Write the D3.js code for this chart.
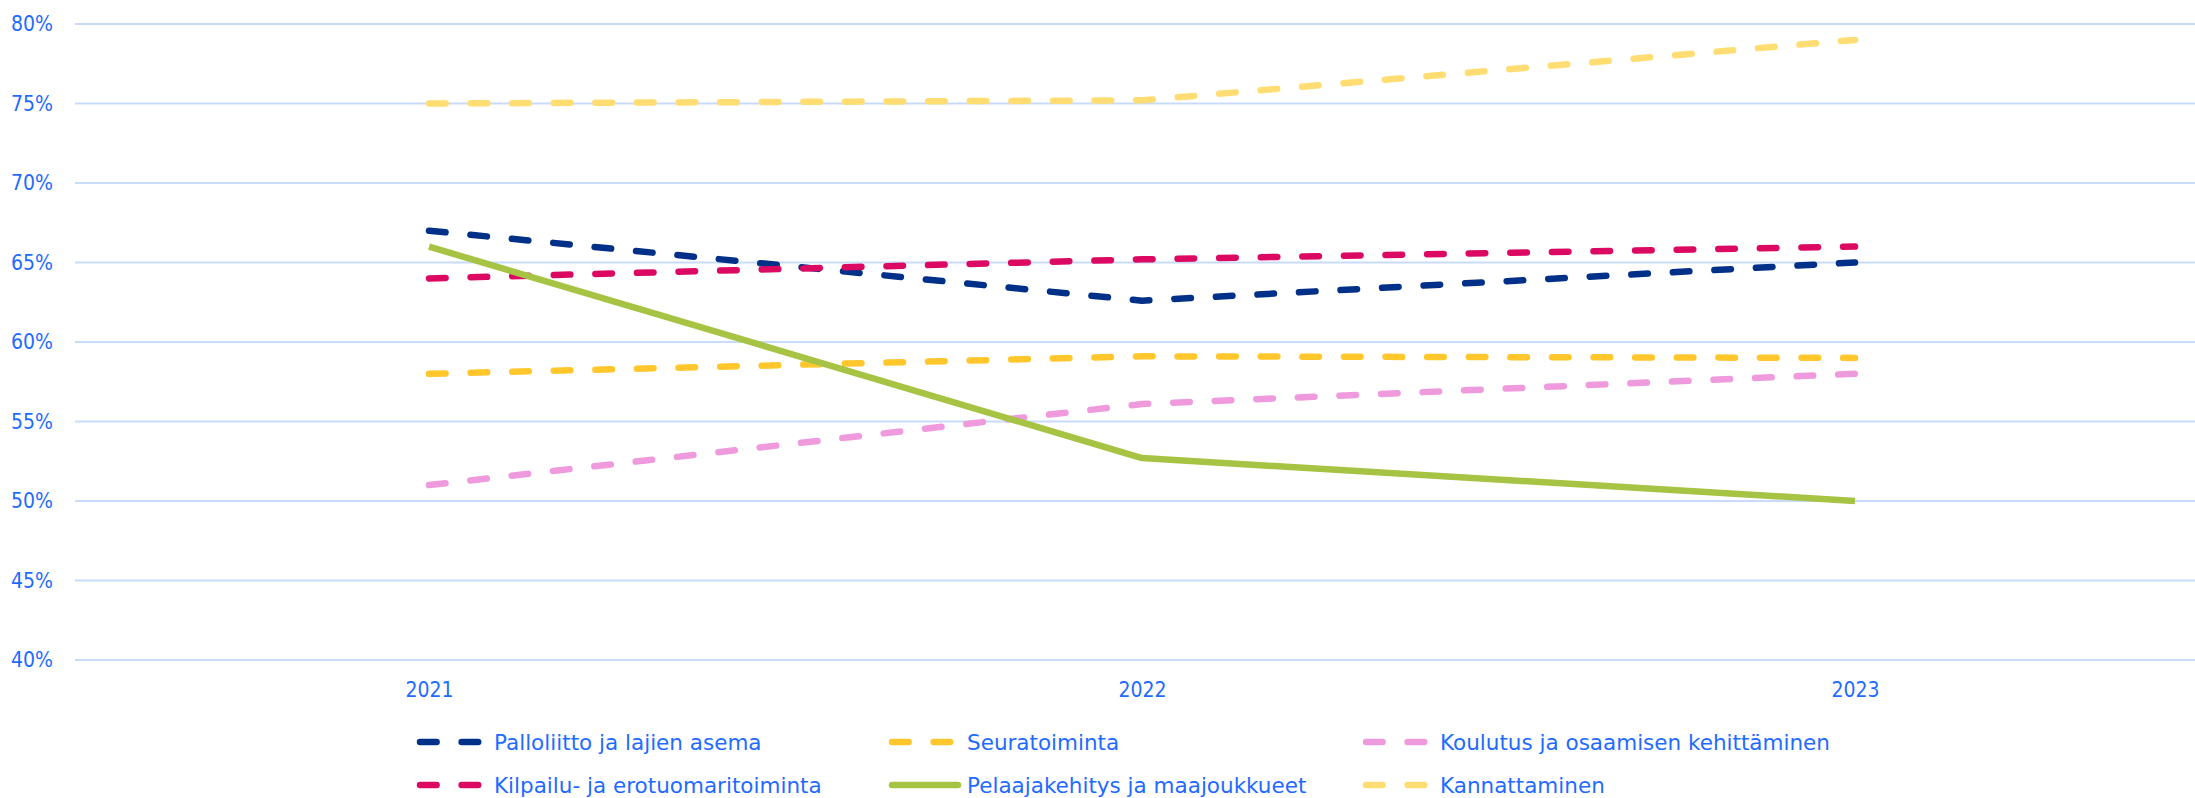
<!DOCTYPE html>
<html>
<head>
<meta charset="utf-8">
<script src="https://cdn.jsdelivr.net/npm/d3@7"></script>
<style>
  html, body { margin: 0; padding: 0; background: #fff; }
  svg { display: block; }
  .legend text { font-family: "DejaVu Sans", sans-serif; fill: #1f6bff; }
  .axis text { font-family: "DejaVu Sans Condensed", "DejaVu Sans", sans-serif; fill: #1f6bff; }
</style>
</head>
<body>
<svg id="chart" width="2195" height="798"></svg>
<script>
const years = ["2021", "2022", "2023"];
const yTicks = [40, 45, 50, 55, 60, 65, 70, 75, 80];

const seriesNames = [
  "Palloliitto ja lajien asema",
  "Seuratoiminta",
  "Koulutus ja osaamisen kehittäminen",
  "Kilpailu- ja erotuomaritoiminta",
  "Pelaajakehitys ja maajoukkueet",
  "Kannattaminen"
];
const palloliitto = [67.0, 62.6, 65.0];
const seuratoiminta = [58.0, 59.1, 59.0];
const koulutus = [51.0, 56.1, 58.0];
const kilpailu = [64.0, 65.2, 66.0];
const pelaaja = [66.0, 52.7, 50.0];
const kannattaminen = [75.0, 75.2, 79.0];
const seriesValues = [palloliitto, seuratoiminta, koulutus, kilpailu, pelaaja, kannattaminen];
const seriesColors = ["#003087", "#ffc72c", "#f09ade", "#dc0963", "#a6c343", "#ffdd72"];
const seriesDashed = [true, true, true, true, false, true];

const svg = d3.select("#chart");
const x = d3.scalePoint().domain(years).range([429, 1855]);
const y = d3.scaleLinear().domain([40, 80]).range([660, 24]);
const gridX0 = 75, gridX1 = 2195;
const dash = "16.6,25";

// gridlines
svg.append("g").selectAll("line").data(yTicks).join("line")
  .attr("x1", gridX0).attr("x2", gridX1)
  .attr("y1", d => y(d)).attr("y2", d => y(d))
  .attr("stroke", "#c9dbfb").attr("stroke-width", 2);

// y axis labels
const yAxis = d3.axisLeft(y).tickValues(yTicks).tickFormat(d => d + "%").tickSize(0).tickPadding(0);
const yg = svg.append("g").attr("class", "axis").attr("transform", "translate(53,0)").call(yAxis);
yg.select(".domain").remove();
yg.selectAll("text").style("font-size", "21px");

// x axis labels
const xAxis = d3.axisBottom(x).tickSize(0).tickPadding(0);
const xg = svg.append("g").attr("class", "axis").attr("transform", "translate(0,682)").call(xAxis);
xg.select(".domain").remove();
xg.selectAll("text").style("font-size", "21px");

// lines
const line = d3.line().x((d, i) => x(years[i])).y(d => y(d));
svg.append("g").selectAll("path").data(seriesValues).join("path")
  .attr("d", d => line(d))
  .attr("fill", "none")
  .attr("stroke", (d, i) => seriesColors[i])
  .attr("stroke-width", 6.5)
  .attr("stroke-linecap", (d, i) => seriesDashed[i] ? "round" : "butt")
  .attr("stroke-linejoin", "round")
  .attr("stroke-dasharray", (d, i) => seriesDashed[i] ? dash : null);

// legend
const colX = [420, 892, 1366];
const textX = [494, 967, 1440];
const rowY = [742, 785];
const lg = svg.append("g").attr("class", "legend");
seriesNames.forEach((name, i) => {
  const col = i % 3, row = Math.floor(i / 3);
  const g = lg.append("g");
  g.append("line")
    .attr("x1", colX[col]).attr("x2", colX[col] + (seriesDashed[i] ? 58.2 : 66))
    .attr("y1", rowY[row]).attr("y2", rowY[row])
    .attr("stroke", seriesColors[i]).attr("stroke-width", 6.5)
    .attr("stroke-linecap", "round")
    .attr("stroke-dasharray", seriesDashed[i] ? dash : null);
  g.append("text")
    .attr("x", textX[col]).attr("y", rowY[row])
    .attr("dy", "0.35em")
    .style("font-size", "21.5px")
    .text(name);
});
</script>
</body>
</html>
